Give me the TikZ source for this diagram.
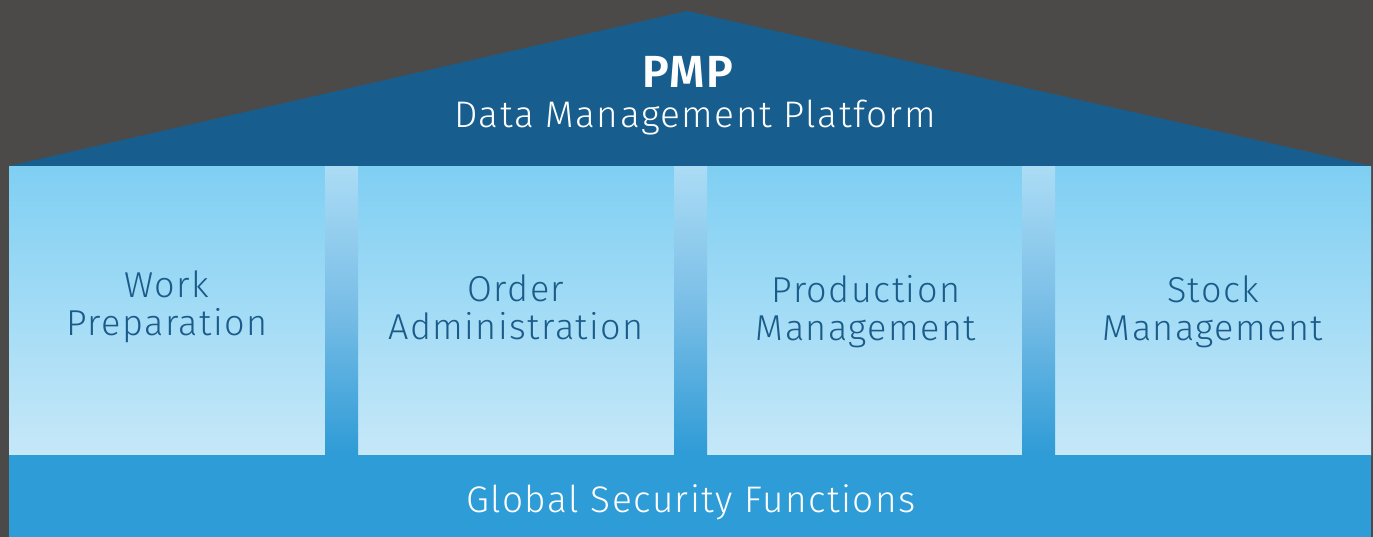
\documentclass[tikz,border=0pt]{standalone}
\usepackage{fontspec}
\setmainfont{Fira Sans}[UprightFont={* Light},BoldFont={* SemiBold}]
\definecolor{bgc}{HTML}{4B4A49}
\definecolor{roofc}{HTML}{175E8E}
\definecolor{boxtop}{HTML}{7FCFF3}
\definecolor{boxbot}{HTML}{C6E8F8}
\definecolor{gaptop}{HTML}{ABDCF5}
\definecolor{gapmid}{HTML}{78BDE6}
\definecolor{gapbot}{HTML}{2E9BD6}
\definecolor{bandc}{HTML}{2E9CD7}
\definecolor{boxtext}{HTML}{1A5B8A}
\tikzset{
  pillar/.style={rectangle, inner sep=0pt, minimum width=316pt, minimum height=289pt,
    top color=boxtop, bottom color=boxbot, anchor=north west},
  gapbox/.style={rectangle, inner sep=0pt, minimum width=33pt, minimum height=289pt,
    top color=gaptop, bottom color=gapbot, middle color=gapmid, anchor=north west},
  pillartext/.style={text=boxtext, align=center, font=\fontsize{36}{38}\selectfont\addfontfeatures{LetterSpace=4}, inner sep=0pt},
  rooftext/.style={text=white, inner sep=0pt, anchor=base},
}
\begin{document}
\begin{tikzpicture}[x=1pt,y=-1pt]
\useasboundingbox (0,0) rectangle (1373,537);
\fill[bgc] (0,0) rectangle (1373,537);
% roof
\coordinate (rl) at (9,166);
\coordinate (ra) at (687,11);
\coordinate (rr) at (1371,166);
\fill[roofc] (rl) -- (ra) -- (rr) -- cycle;
% pillars
\node[pillar] (box1) at (9,166) {};
\node[pillar] (box2) at (358,166) {};
\node[pillar] (box3) at (707,166) {};
\node[pillar] (box4) at (1055,166) {};
\node[gapbox] (gap1) at (325,166) {};
\node[gapbox] (gap2) at (674,166) {};
\node[gapbox] (gap3) at (1022,166) {};
% band
\node[rectangle, inner sep=0pt, minimum width=1362pt, minimum height=82pt, fill=bandc, anchor=north west] (band) at (9,455) {};
% texts
\node[rooftext, font=\fontsize{45}{45}\selectfont\bfseries\addfontfeatures{LetterSpace=3}] (pmp) at (688,88) {PMP};
\node[rooftext, font=\fontsize{37}{37}\selectfont\addfontfeatures{LetterSpace=4}] (dmp) at (695,128) {Data Management Platform};
\node[pillartext] (t1) at (167,307) {Work\\Preparation};
\node[pillartext] (t2) at (516,307) {Order\\Administration};
\node[pillartext] (t3) at (866,312) {Production\\Management};
\node[pillartext] (t4) at (1213,312) {Stock\\Management};
\node[rooftext, font=\fontsize{37}{37}\selectfont\addfontfeatures{LetterSpace=4}] (gsf) at (691,512) {Global Security Functions};
\end{tikzpicture}
\end{document}
